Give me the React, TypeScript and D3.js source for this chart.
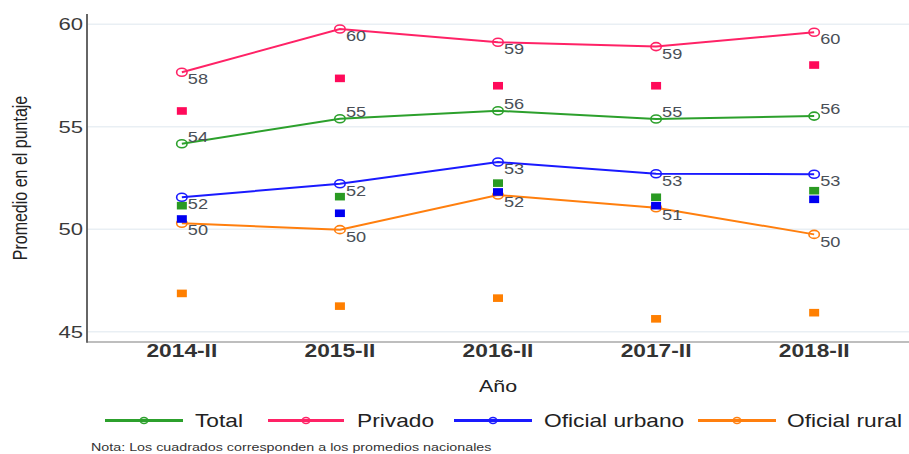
import React from "react";
import * as d3 from "d3";

const years = ["2014-II", "2015-II", "2016-II", "2017-II", "2018-II"];
const total = [54.17, 55.39, 55.78, 55.38, 55.52];
const privado = [57.66, 59.77, 59.12, 58.91, 59.61];
const urbano = [51.56, 52.22, 53.28, 52.71, 52.68];
const rural = [50.29, 49.98, 51.67, 51.05, 49.75];
const totalNac = [51.15, 51.59, 52.25, 51.56, 51.88];
const privadoNac = [55.77, 57.36, 57.0, 57.0, 58.01];
const urbanoNac = [50.5, 50.78, 51.82, 51.15, 51.46];
const ruralNac = [46.87, 46.25, 46.64, 45.63, 45.93];
const yTicks = [45, 50, 55, 60];
const seriesNames = ["Total", "Privado", "Oficial urbano", "Oficial rural"];

const W = 909;
const H = 454;
const SX = 1.3;
const FONT = "'Liberation Sans', Arial, sans-serif";

const series = [
  { name: seriesNames[0], values: total, nac: totalNac, color: "#2ca02c", sq: "#2a9a22", above: true },
  { name: seriesNames[1], values: privado, nac: privadoNac, color: "#ff2266", sq: "#ff0a5a", above: false },
  { name: seriesNames[2], values: urbano, nac: urbanoNac, color: "#1a1aff", sq: "#0000f0", above: false },
  { name: seriesNames[3], values: rural, nac: ruralNac, color: "#ff7f0e", sq: "#ff7f00", above: false },
];

const legendLayout = [
  { x1: 105, x2: 183, tx: 195 },
  { x1: 268, x2: 344, tx: 357 },
  { x1: 454, x2: 532, tx: 544 },
  { x1: 698, x2: 776, tx: 787 },
];

function SText(props: {
  x: number; y: number; size: number; anchor?: string; weight?: string | number;
  fill?: string; rotate?: number; children: React.ReactNode;
}) {
  const { x, y, size, anchor = "start", weight = "normal", fill = "#333", rotate = 0, children } = props;
  return (
    <text
      transform={`translate(${x},${y}) scale(${SX},1)${rotate ? ` rotate(${rotate})` : ""}`}
      fontSize={size}
      fontFamily={FONT}
      fontWeight={weight}
      textAnchor={anchor}
      dominantBaseline="central"
      fill={fill}
    >
      {children}
    </text>
  );
}

export default function App() {
  const x = d3.scalePoint<string>().domain(years).range([87, 909]).padding(0.6);
  const y = d3.scaleLinear().domain([44.5, 60.5]).range([342, 14]);
  const line = d3
    .line<number>()
    .x((_, i) => x(years[i]) as number)
    .y((d) => y(d));

  return (
    <div style={{ position: "absolute", left: 0, top: 0 }}>
      <svg width={W} height={H} style={{ display: "block", background: "#fff" }}>
        {/* gridlines */}
        {yTicks.map((t) => (
          <line key={t} x1={87} x2={909} y1={y(t)} y2={y(t)} stroke="#e9eff4" strokeWidth={1.5} />
        ))}
        {/* axes */}
        <line x1={87} x2={909} y1={342} y2={342} stroke="#a8a8a8" strokeWidth={1.5} />
        <line x1={87} x2={87} y1={14} y2={342.7} stroke="#666" strokeWidth={2} />
        {yTicks.map((t) => (
          <SText key={t} x={83} y={y(t)} size={17} anchor="end" fill="#3a3a3a">
            {t}
          </SText>
        ))}
        {years.map((yr) => (
          <SText key={yr} x={x(yr) as number} y={351} size={17.5} anchor="middle" weight="bold" fill="#333">
            {yr}
          </SText>
        ))}
        <SText x={498} y={386} size={16.5} anchor="middle" fill="#222">
          Año
        </SText>
        <SText x={20} y={178} size={16} anchor="middle" fill="#222" rotate={-90}>
          Promedio en el puntaje
        </SText>

        {/* lines and markers */}
        {series.map((s) => (
          <g key={s.name}>
            <path d={line(s.values) || ""} fill="none" stroke={s.color} strokeWidth={2} />
            {s.values.map((v, i) => (
              <ellipse
                key={i}
                cx={x(years[i]) as number}
                cy={y(v)}
                rx={5.2}
                ry={4}
                fill="none"
                stroke={s.color}
                strokeWidth={1.6}
              />
            ))}
          </g>
        ))}
        {/* national squares */}
        {series.map((s) => (
          <g key={s.name + "nac"}>
            {s.nac.map((v, i) => (
              <rect
                key={i}
                x={(x(years[i]) as number) - 5}
                y={y(v) - 3.8}
                width={10}
                height={7.6}
                fill={s.sq}
              />
            ))}
          </g>
        ))}
        {/* labels */}
        {series.map((s) => (
          <g key={s.name + "lab"}>
            {s.values.map((v, i) => (
              <SText
                key={i}
                x={(x(years[i]) as number) + 6}
                y={y(v) + (s.above ? -7 : 7)}
                size={14}
                fill="#4a4f57"
              >
                {Math.round(v)}
              </SText>
            ))}
          </g>
        ))}

        {/* legend */}
        {series.map((s, i) => {
          const L = legendLayout[i];
          return (
            <g key={s.name + "leg"}>
              <line x1={L.x1} x2={L.x2} y1={420.5} y2={420.5} stroke={s.color} strokeWidth={3} />
              <ellipse cx={(L.x1 + L.x2) / 2} cy={420.5} rx={3.8} ry={3} fill="none" stroke={s.color} strokeWidth={1.5} />
              <SText x={L.tx} y={420.5} size={17.5} fill="#222">
                {s.name}
              </SText>
            </g>
          );
        })}
        <SText x={91} y={447} size={11} fill="#333">
          Nota: Los cuadrados corresponden a los promedios nacionales
        </SText>
      </svg>
    </div>
  );
}
